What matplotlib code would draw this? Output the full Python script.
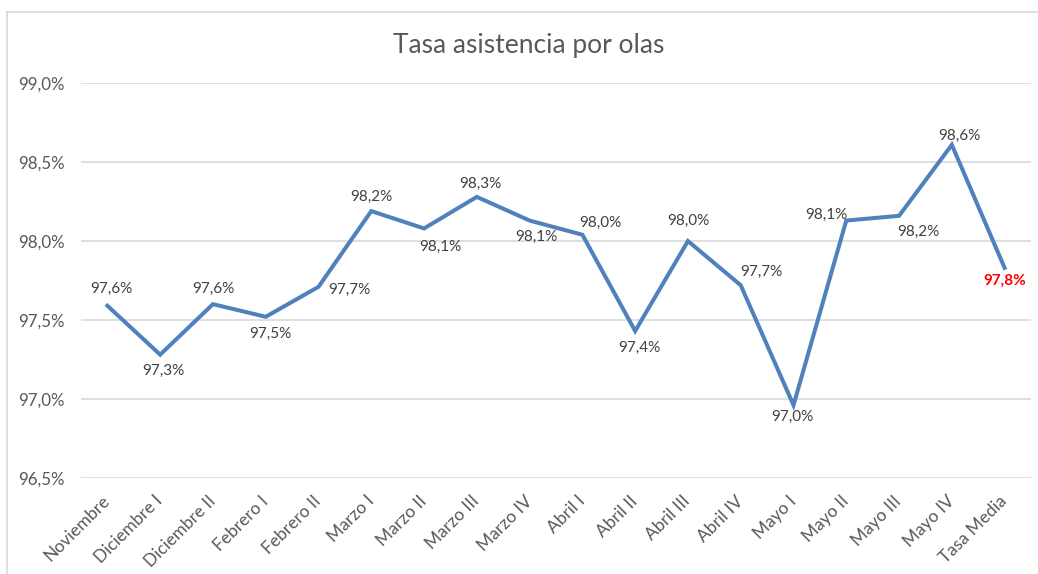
#!/usr/bin/env python3
import matplotlib
matplotlib.use("Agg")
import matplotlib.pyplot as plt
from matplotlib.lines import Line2D

# ── data ─────────────────────────────────────────────────────────────────────
olas = ["Noviembre", "Diciembre I", "Diciembre II", "Febrero I", "Febrero II",
        "Marzo I", "Marzo II", "Marzo III", "Marzo IV", "Abril I", "Abril II",
        "Abril III", "Abril IV", "Mayo I", "Mayo II", "Mayo III", "Mayo IV",
        "Tasa Media"]
tasa = [97.59, 97.28, 97.60, 97.52, 97.71, 98.19, 98.08, 98.28, 98.13, 98.04,
        97.43, 98.00, 97.72, 96.96, 98.13, 98.16, 98.61, 97.83]
y_ticks = [96.5, 97.0, 97.5, 98.0, 98.5, 99.0]

# label offsets in pixels (dx, dy), screen y grows downwards
label_off = [(4, -17), (3, 16), (0, -15), (5, 17), (31, 3), (0, -14),
             (16, 18), (4, -13), (7, 16), (18, -12), (4, 17), (0, -20),
             (21, -13), (-1, 12), (-20, -6), (19, 16), (8, -9), (0, 13)]

FONT = ["Lato", "DejaVu Sans"]
GREY = "#595959"
LINE = "#4F81BD"

def pct(v):
    return f"{v:.1f}%".replace(".", ",")

fig = plt.figure(figsize=(10.38, 5.74), dpi=100)
ax = fig.add_axes([81 / 1038, 1 - 477.7 / 574, 950 / 1038, 394.4 / 574])

x = list(range(len(olas)))
ax.plot(x, tasa, color=LINE, lw=2.9, solid_joinstyle="miter", zorder=3)

ax.set_xlim(-0.5, len(olas) - 0.5)
ax.set_ylim(96.5, 99.0)
ax.set_yticks(y_ticks)
ax.set_yticklabels([pct(v) for v in y_ticks], family=FONT, fontsize=12.2, color=GREY)
ax.set_xticks(x)
ax.set_xticklabels(olas, rotation=45, ha="right", va="center",
                   rotation_mode="anchor", family=FONT, fontsize=12.5,
                   color=GREY)
ax.tick_params(length=0, axis="y", pad=12)
ax.tick_params(length=0, axis="x", pad=15)
ax.grid(axis="y", color="#D9D9D9", lw=1.2)
ax.set_axisbelow(True)
for s in ax.spines.values():
    s.set_visible(False)

# data labels
for i, (v, (dx, dy)) in enumerate(zip(tasa, label_off)):
    last = i == len(tasa) - 1
    ax.annotate(pct(v), (i, v), xytext=(dx * 0.72, -dy * 0.72),
                textcoords="offset points", ha="center", va="center",
                family=FONT, fontsize=11,
                color="#FF0000" if last else "#404040",
                fontweight="bold" if last else "normal", zorder=4)

fig.text(529 / 1038, 1 - 45 / 574, "Tasa asistencia por olas", ha="center",
         va="center", family=FONT, fontsize=19, color=GREY)

# chart frame
fig.add_artist(Line2D([7 / 1038, 1], [1 - 12 / 574] * 2, color="#D9D9D9", lw=1.2))
fig.add_artist(Line2D([7 / 1038] * 2, [0, 1 - 12 / 574], color="#D9D9D9", lw=1.2))

fig.savefig("out.png", dpi=100)
